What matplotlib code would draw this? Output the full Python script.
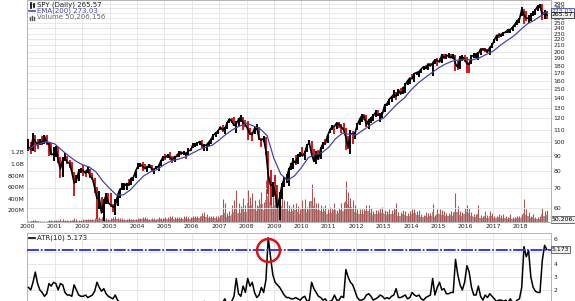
import numpy as np
import matplotlib.pyplot as plt
from matplotlib.lines import Line2D
from matplotlib.ticker import FixedLocator, NullLocator, FuncFormatter

plt.rcParams['lines.scale_dashes'] = False

# SPY (adjusted) month by month, Jan 2000 .. Dec 2018
spy_close = [
    96.2, 94.3, 103.4, 100.2, 98.0, 100.4, 98.7, 104.7, 99.2, 98.6, 90.7, 91.1,
    95.6, 86.8, 81.2, 87.4, 87.9, 85.7, 84.8, 79.4, 72.9, 74.2, 79.7, 80.4,
    80.2, 78.6, 81.4, 76.5, 75.8, 70.3, 64.8, 65.0, 57.9, 62.9, 66.5, 62.5,
    61.6, 60.6, 61.1, 66.0, 69.4, 70.2, 71.3, 72.6, 71.7, 75.7, 76.2, 80.1,
    83.1, 84.2, 82.8, 81.4, 82.4, 83.9, 81.0, 81.1, 82.0, 83.1, 86.3, 89.1,
    88.6, 90.3, 88.6, 86.8, 89.4, 89.3, 92.6, 91.5, 92.2, 90.5, 93.7, 93.6,
    97.9, 98.0, 99.1, 100.3, 97.2, 97.2, 97.7, 99.8, 102.2, 105.4, 107.2, 108.5,
    112.2, 109.7, 110.8, 115.6, 119.4, 117.2, 113.5, 115.0, 119.1, 120.8, 115.5, 114.5,
    110.3, 106.5, 105.8, 110.9, 112.0, 102.4, 101.4, 102.6, 93.2, 77.5, 71.7, 72.2,
    67.7, 60.3, 65.4, 71.6, 75.4, 75.4, 80.9, 83.7, 86.7, 85.0, 89.9, 91.4,
    89.7, 92.2, 97.6, 99.1, 90.9, 86.1, 92.0, 87.6, 95.3, 98.8, 98.6, 105.0,
    109.3, 112.8, 112.7, 115.9, 114.3, 112.3, 109.8, 103.6, 96.1, 106.5, 106.0, 106.9,
    114.1, 118.8, 122.5, 121.6, 114.0, 118.5, 120.0, 122.4, 125.4, 122.8, 123.2, 124.1,
    132.6, 134.1, 138.9, 141.4, 144.3, 142.1, 149.2, 144.5, 148.9, 155.5, 159.8, 163.5,
    162.5, 169.3, 170.5, 171.6, 175.2, 178.4, 175.8, 182.3, 179.5, 183.6, 188.1, 187.3,
    185.0, 195.0, 191.5, 193.0, 195.0, 191.0, 194.8, 182.5, 177.6, 192.3, 192.4, 189.0,
    182.4, 181.6, 193.6, 194.1, 197.1, 197.3, 204.4, 204.1, 203.8, 199.8, 206.7, 210.5,
    218.8, 226.9, 226.8, 228.9, 231.6, 232.6, 237.1, 237.3, 241.8, 247.2, 254.2, 256.7,
    276.8, 266.0, 258.8, 259.5, 265.1, 266.4, 276.0, 284.4, 285.6, 265.8, 270.5, 265.57,
]
spy_high = [
    102.0, 99.7, 107.2, 105.4, 102.2, 102.1, 104.7, 105.2, 105.6, 99.2, 98.8, 95.8,
    96.8, 96.3, 88.7, 88.8, 92.1, 90.0, 86.7, 85.8, 79.4, 77.7, 81.4, 82.1,
    83.5, 80.3, 83.3, 81.4, 78.6, 76.0, 70.6, 68.5, 65.6, 64.4, 67.5, 67.7,
    67.3, 62.2, 64.4, 66.5, 69.5, 73.1, 73.1, 72.8, 74.9, 75.8, 76.5, 80.1,
    84.9, 85.2, 85.5, 84.5, 82.9, 84.2, 83.9, 81.5, 83.2, 83.9, 87.3, 89.4,
    91.3, 90.9, 92.2, 89.4, 90.0, 91.4, 93.5, 93.4, 93.2, 92.5, 95.3, 95.7,
    99.1, 99.2, 100.2, 100.8, 101.4, 98.7, 98.0, 99.9, 102.5, 106.3, 107.6, 109.5,
    112.4, 114.0, 112.2, 116.8, 119.7, 120.1, 121.4, 117.2, 120.0, 122.9, 121.1, 118.8,
    117.7, 111.7, 108.2, 111.8, 115.2, 112.3, 103.4, 105.0, 104.2, 93.4, 80.6, 73.5,
    77.3, 71.9, 68.2, 72.8, 76.3, 78.4, 81.8, 85.3, 88.6, 90.3, 91.3, 92.7,
    96.0, 92.9, 98.5, 101.8, 100.7, 94.5, 93.6, 94.3, 95.9, 99.9, 102.5, 105.4,
    110.8, 114.2, 113.2, 116.1, 116.5, 114.4, 115.3, 111.2, 104.5, 109.9, 108.5, 107.9,
    116.1, 119.9, 123.5, 123.7, 123.1, 118.7, 121.0, 124.1, 128.3, 127.9, 124.8, 126.0,
    133.5, 135.4, 138.9, 141.4, 149.3, 146.4, 150.3, 151.2, 153.1, 157.1, 160.5, 163.6,
    168.5, 170.0, 171.6, 172.7, 175.3, 179.1, 181.2, 182.5, 183.7, 183.6, 188.8, 190.4,
    191.4, 196.3, 196.1, 196.7, 197.6, 197.2, 197.4, 195.6, 187.0, 193.6, 195.7, 194.6,
    191.6, 184.4, 194.9, 198.4, 197.4, 199.3, 204.7, 206.1, 205.6, 203.9, 208.1, 214.1,
    220.9, 227.6, 230.5, 230.2, 232.1, 235.6, 238.5, 239.1, 241.8, 247.9, 255.1, 258.7,
    281.6, 277.9, 274.5, 266.4, 268.8, 273.5, 279.1, 285.8, 288.2, 288.1, 275.9, 274.4,
]
spy_low = [
    93.2, 91.4, 92.9, 92.4, 94.8, 97.3, 97.8, 98.7, 98.0, 90.0, 90.1, 86.5,
    89.3, 85.1, 75.7, 76.4, 86.2, 84.2, 81.6, 78.7, 66.2, 72.8, 73.8, 78.7,
    76.8, 76.3, 78.5, 75.5, 74.4, 67.6, 55.1, 59.5, 57.9, 54.5, 61.9, 61.9,
    60.5, 58.1, 56.8, 61.0, 64.9, 69.3, 69.3, 69.1, 71.3, 71.6, 74.2, 75.8,
    81.4, 82.5, 80.0, 81.4, 79.1, 81.9, 79.2, 77.9, 80.9, 80.1, 83.1, 86.1,
    87.2, 88.5, 87.2, 85.3, 86.0, 89.1, 88.7, 90.1, 90.5, 87.6, 90.2, 93.5,
    95.2, 95.9, 97.0, 97.9, 95.2, 93.3, 93.6, 96.7, 98.7, 101.5, 104.0, 106.0,
    109.4, 108.3, 106.4, 110.4, 115.4, 115.8, 113.5, 106.9, 113.3, 116.2, 109.7, 111.9,
    101.6, 105.3, 100.6, 106.0, 109.8, 101.8, 96.0, 99.8, 90.6, 67.2, 61.5, 65.4,
    66.0, 60.3, 54.7, 64.3, 70.6, 72.8, 71.3, 80.3, 81.3, 83.6, 84.4, 89.1,
    89.4, 87.2, 92.3, 97.7, 89.0, 85.9, 84.4, 86.8, 87.6, 94.4, 97.9, 99.0,
    106.8, 109.6, 106.2, 110.4, 111.4, 107.0, 109.0, 93.7, 94.7, 91.4, 98.5, 102.2,
    109.5, 114.1, 116.6, 118.1, 112.4, 110.2, 115.3, 117.8, 121.5, 122.1, 116.8, 120.5,
    126.2, 131.4, 132.8, 135.9, 139.9, 138.1, 142.0, 144.1, 144.5, 145.7, 154.5, 156.4,
    161.7, 158.3, 167.1, 165.3, 169.4, 174.4, 175.7, 173.5, 178.8, 165.9, 182.1, 179.5,
    184.3, 183.5, 188.9, 189.6, 191.4, 190.4, 189.2, 172.9, 173.3, 175.3, 186.9, 184.6,
    170.3, 170.1, 182.1, 191.2, 190.4, 187.2, 195.1, 201.9, 199.2, 198.7, 195.9, 205.7,
    214.5, 217.6, 222.9, 223.6, 225.9, 230.9, 231.1, 232.0, 234.8, 241.9, 245.5, 250.1,
    262.9, 248.2, 253.4, 250.2, 254.3, 264.4, 264.5, 274.6, 280.7, 255.1, 257.9, 256.9,
]

# EMA(200) read quarterly, 2000.00 .. 2018.75, then the last value
ema200 = [
    94, 97, 99, 100, 98.5, 94, 90, 86.5, 84, 82.5, 79.5, 74,
    70, 66.5, 66.5, 69, 73, 77, 79.5, 81, 84, 86.5, 87.5, 89,
    91.5, 94, 96, 97.5, 101.5, 106, 110, 113, 115.5, 113, 110.5, 105,
    88, 78, 74.5, 77, 82, 88.5, 91, 92, 96, 102.5, 107, 106,
    105.5, 109.5, 113.5, 117.5, 120, 127, 134, 140, 149, 157, 163.5, 170,
    176.5, 182, 186, 188, 188.5, 188, 191, 196, 201, 210, 218, 226,
    237, 248, 255, 264, 273.03,
]

# volume in millions of shares: monthly typical day and monthly peak day
vol_avg = [
    8, 9, 11, 10, 9, 8, 7, 7, 8, 12, 11, 14,
    15, 18, 22, 20, 18, 17, 17, 20, 30, 25, 22, 22,
    25, 28, 27, 28, 30, 38, 60, 45, 45, 50, 40, 35,
    40, 45, 60, 45, 40, 40, 38, 35, 40, 38, 35, 33,
    40, 45, 55, 50, 45, 40, 45, 40, 40, 50, 45, 42,
    55, 55, 60, 65, 60, 55, 50, 55, 60, 70, 55, 50,
    65, 70, 70, 70, 95, 110, 85, 70, 65, 65, 65, 60,
    75, 120, 150, 90, 100, 140, 170, 240, 150, 150, 220, 170,
    330, 270, 300, 230, 190, 260, 310, 210, 380, 450, 350, 260,
    290, 310, 340, 270, 240, 220, 190, 170, 190, 210, 170, 140,
    220, 250, 180, 200, 360, 270, 220, 210, 190, 170, 190, 140,
    160, 150, 200, 130, 150, 210, 190, 370, 310, 260, 230, 180,
    150, 140, 140, 140, 190, 190, 150, 120, 130, 130, 150, 160,
    130, 120, 140, 130, 140, 200, 110, 110, 130, 120, 95, 110,
    140, 150, 120, 120, 90, 80, 100, 90, 100, 170, 80, 130,
    140, 120, 120, 95, 95, 115, 105, 180, 170, 120, 100, 140,
    170, 160, 110, 85, 85, 130, 75, 65, 110, 75, 110, 95,
    70, 65, 85, 75, 70, 70, 55, 75, 55, 55, 70, 70,
    85, 160, 120, 100, 70, 80, 60, 55, 60, 140, 110, 120,
]
vol_max = [
    20, 22, 30, 28, 20, 18, 15, 16, 20, 30, 28, 35,
    35, 40, 55, 45, 35, 35, 35, 40, 75, 50, 40, 40,
    45, 50, 45, 50, 55, 70, 120, 85, 80, 90, 70, 60,
    70, 80, 110, 75, 70, 65, 60, 55, 65, 60, 55, 55,
    65, 75, 90, 80, 70, 60, 70, 65, 60, 80, 70, 65,
    85, 85, 95, 100, 90, 85, 80, 85, 95, 110, 85, 80,
    100, 110, 105, 110, 160, 180, 130, 110, 100, 100, 100, 95,
    120, 400, 330, 160, 190, 300, 380, 560, 330, 280, 420, 300,
    560, 430, 500, 380, 300, 400, 520, 350, 720, 870, 640, 430,
    480, 520, 560, 430, 380, 360, 300, 260, 310, 330, 280, 220,
    380, 400, 260, 360, 650, 430, 330, 320, 290, 260, 300, 220,
    260, 230, 330, 200, 240, 330, 350, 700, 520, 420, 380, 290,
    230, 220, 220, 220, 290, 300, 240, 190, 200, 210, 250, 260,
    200, 190, 230, 200, 240, 330, 170, 180, 210, 190, 150, 190,
    230, 220, 190, 200, 140, 120, 180, 150, 160, 310, 120, 220,
    230, 200, 190, 160, 150, 190, 170, 500, 280, 190, 170, 240,
    290, 250, 170, 130, 130, 300, 120, 100, 190, 120, 190, 160,
    110, 100, 140, 120, 130, 110, 90, 130, 90, 80, 110, 110,
    140, 400, 220, 170, 110, 130, 90, 80, 100, 250, 190, 200,
]

# ATR(10), monthly
atr10 = [
    2.2, 2.0, 2.6, 3.4, 2.5, 2.0, 1.8, 1.5, 1.7, 2.5, 2.3, 2.6,
    2.5, 2.0, 2.5, 2.4, 1.8, 1.6, 1.6, 1.5, 2.4, 2.0, 1.6, 1.5,
    1.5, 1.6, 1.4, 1.5, 1.6, 1.9, 2.6, 2.2, 1.9, 2.1, 1.7, 1.5,
    1.4, 1.3, 1.6, 1.2, 1.0, 1.0, 0.9, 0.8, 0.9, 0.8, 0.8, 0.7,
    0.8, 0.7, 0.9, 0.8, 0.8, 0.6, 0.7, 0.7, 0.6, 0.7, 0.7, 0.6,
    0.7, 0.7, 0.7, 0.8, 0.7, 0.6, 0.6, 0.6, 0.6, 0.8, 0.6, 0.6,
    0.7, 0.6, 0.6, 0.7, 0.9, 1.1, 0.9, 0.7, 0.6, 0.6, 0.6, 0.6,
    0.7, 1.0, 1.3, 0.8, 0.9, 1.1, 1.5, 2.9, 1.7, 1.5, 2.3, 1.8,
    2.9, 2.3, 2.6, 1.8, 1.4, 1.6, 2.2, 1.8, 2.8, 6.1, 4.6, 3.2,
    2.6, 2.4, 2.2, 1.9, 1.6, 1.4, 1.4, 1.3, 1.3, 1.4, 1.3, 1.2,
    1.4, 1.5, 1.1, 1.2, 2.6, 2.1, 1.8, 1.5, 1.4, 1.2, 1.3, 1.0,
    1.1, 1.2, 1.6, 1.2, 1.2, 1.5, 1.4, 3.6, 3.0, 2.6, 2.4, 1.9,
    1.4, 1.2, 1.2, 1.3, 1.6, 1.7, 1.5, 1.2, 1.3, 1.4, 1.6, 1.5,
    1.3, 1.4, 1.3, 1.5, 1.6, 2.1, 1.4, 1.4, 1.5, 1.6, 1.3, 1.4,
    1.8, 1.6, 1.5, 1.6, 1.3, 1.2, 1.4, 1.5, 1.6, 2.9, 1.6, 2.2,
    2.6, 2.0, 2.1, 1.7, 1.7, 1.8, 1.8, 4.4, 3.2, 2.4, 2.0, 2.6,
    3.9, 3.4, 2.2, 1.6, 1.6, 2.3, 1.5, 1.2, 1.6, 1.4, 1.7, 1.5,
    1.3, 1.1, 1.2, 1.2, 1.1, 1.2, 1.0, 1.3, 1.0, 1.0, 1.2, 1.3,
    2.2, 5.4, 4.6, 5.1, 3.0, 2.2, 1.9, 1.8, 1.8, 4.3, 5.5, 5.173,
]

years = list(range(2000, 2019))
price_ticks = list(range(60, 300, 10))
vol_ticks = [200, 400, 600, 800, 1000, 1200]
atr_ticks = [2, 3, 4, 5, 6]

# x positions: middle of each month, in decimal years
mx = 2000 + (np.arange(len(spy_close)) + 0.5) / 12
ex = np.append(2000 + 0.25 * np.arange(len(ema200) - 1), mx[-1])

W, H = 575, 301
fig = plt.figure(figsize=(W / 100, H / 100), dpi=100)


def box(l, t, r, b):
    return [l / W, 1 - b / H, (r - l) / W, (b - t) / H]


GRID = '#e3e3e3'
SPINE = '#b4b4b4'
FS = 4.4

# ---- volume (bottom layer) + price panel ----
axv = fig.add_axes(box(27.3, 0, 551, 222))
ax = axv.twinx()

axv.bar(mx, vol_avg, width=1 / 12, color='#c08e8e', linewidth=0, zorder=2)
axv.vlines(mx, 0, vol_max, color='#a45858', lw=0.8, zorder=3)
axv.set_ylim(0, 222 / 11.6 * 200)
axv.yaxis.set_major_locator(FixedLocator(vol_ticks))
axv.yaxis.set_major_formatter(FuncFormatter(
    lambda v, p: '%.1fB' % (v / 1000) if v >= 1000 else '%dM' % v))
axv.set_xlim(2000, 2019.11)
axv.set_xticks(years)
axv.set_xticklabels([str(y) for y in years])
axv.tick_params(axis='x', length=0, pad=1.2, labelsize=FS, colors='#222222')
axv.tick_params(axis='y', length=0, pad=2, labelsize=FS, colors='#222222')
axv.grid(axis='x', color=GRID, lw=0.6, zorder=0)
axv.set_axisbelow(True)

ax.set_yscale('log')
ax.set_ylim(54.0, 298.0)
ax.yaxis.set_major_locator(FixedLocator(price_ticks))
ax.yaxis.set_minor_locator(NullLocator())
ax.yaxis.set_major_formatter(FuncFormatter(lambda v, p: '%d' % v))
ax.tick_params(axis='y', which='both', length=0, pad=2, labelsize=FS, colors='#222222')
ax.grid(axis='y', color=GRID, lw=0.6)

cl = np.array(spy_close)
up = np.r_[True, cl[1:] >= cl[:-1]]
ax.vlines(mx[~up], np.array(spy_low)[~up], np.array(spy_high)[~up], color='#d01818', lw=1.4, zorder=3)
ax.vlines(mx[up], np.array(spy_low)[up], np.array(spy_high)[up], color='black', lw=1.4, zorder=3)
ax.plot(mx, spy_close, color='black', lw=1.2, zorder=4)
ax.plot(ex, ema200, color='#4545a8', lw=0.9, zorder=5)

for a in (axv, ax):
    for s in a.spines.values():
        s.set_color(SPINE)
        s.set_linewidth(0.7)

# value boxes on the right edge
tr = ax.get_yaxis_transform()
ax.text(1.002, ema200[-1], '%.2f' % ema200[-1], transform=tr, fontsize=FS, color='#4545a8',
        va='center', ha='left', clip_on=False,
        bbox=dict(boxstyle='square,pad=0.15', fc='white', ec='#4545a8', lw=0.6))
ax.text(1.002, spy_close[-1], '%.2f' % spy_close[-1], transform=tr, fontsize=FS, color='black',
        va='center', ha='left', clip_on=False,
        bbox=dict(boxstyle='square,pad=0.15', fc='#eeeeee', ec='#333333', lw=0.6))
axv.text(1.002, 50.206156, '50,206,156', transform=axv.get_yaxis_transform(), fontsize=FS,
         va='center', ha='left', clip_on=False,
         bbox=dict(boxstyle='square,pad=0.15', fc='#eeeeee', ec='#555555', lw=0.6))

# ---- ATR panel ----
axa = fig.add_axes(box(27.3, 233, 551, 301))
axa.plot(mx, atr10, color='black', lw=1.1, zorder=3)
axa.axhline(atr10[-1], color='#2a2aee', lw=1.3, dashes=(8.6, 1.3, 1.3, 1.3), zorder=4)
peak = int(np.argmax(atr10))
axa.plot(mx[peak], atr10[-1], 'o', ms=16.5, mfc='none', mec='#d01818', mew=1.8, zorder=5,
         clip_on=False)
axa.set_xlim(2000, 2019.11)
axa.set_ylim(1.13, 6.47)
axa.set_xticks(years)
axa.set_xticklabels([])
axa.yaxis.tick_right()
axa.set_yticks(atr_ticks)
axa.tick_params(axis='both', length=0, pad=2, labelsize=FS, colors='#222222')
axa.grid(color=GRID, lw=0.6)
axa.set_axisbelow(True)
for s in axa.spines.values():
    s.set_color(SPINE)
    s.set_linewidth(0.7)
axa.text(1.002, atr10[-1], '%.3f' % atr10[-1], transform=axa.get_yaxis_transform(), fontsize=FS,
         va='center', ha='left', clip_on=False,
         bbox=dict(boxstyle='square,pad=0.15', fc='#eeeeee', ec='#555555', lw=0.6))

# ---- legends ----
def px(x, y):
    return x / W, 1 - y / H


LFS = 5.0
fig.add_artist(Line2D([30.5 / W, 30.5 / W], [1 - 2.5 / H, 1 - 7.5 / H], color='black', lw=1.2))
fig.add_artist(Line2D([33.5 / W, 33.5 / W], [1 - 3.5 / H, 1 - 6.5 / H], color='black', lw=1.2))
fig.text(*px(37, 5), 'SPY (Daily) %.2f' % spy_close[-1], fontsize=LFS, va='center', color='#222222')
fig.add_artist(Line2D([29 / W, 35 / W], [1 - 11 / H] * 2, color='#4545a8', lw=1.2))
fig.text(*px(37, 11.2), 'EMA(200) %.2f' % ema200[-1], fontsize=LFS, va='center', color='#4545a8')
for i, hh in enumerate([2.5, 4, 3]):
    fig.add_artist(Line2D([(30 + 1.8 * i) / W] * 2, [1 - 19.5 / H, 1 - (19.5 - hh) / H],
                          color='#555555', lw=1.0))
fig.text(*px(37, 17.4), 'Volume 50,206,156', fontsize=LFS, va='center', color='#666666')

fig.add_artist(Line2D([29 / W, 35 / W], [1 - 237.5 / H] * 2, color='black', lw=1.2))
fig.text(*px(37, 237.6), 'ATR(10) %.3f' % atr10[-1], fontsize=LFS, va='center', color='#222222')

fig.savefig('out.png', dpi=100)
